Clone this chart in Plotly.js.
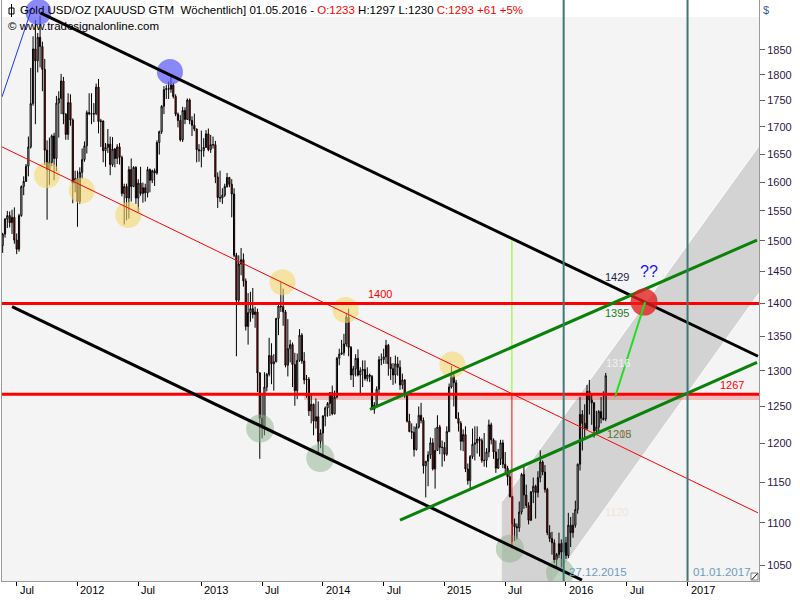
<!DOCTYPE html>
<html><head><meta charset="utf-8">
<script src="https://cdn.plot.ly/plotly-3.0.1.min.js"></script>
<style>html,body{margin:0;padding:0;background:#fff;}#chart{width:800px;height:600px;}</style>
</head><body><div id="chart"></div>
<script>
// ---- weekly bars (week-ending Sunday label), Gold USD/OZ ----
const wk2011 = ['05-22','05-29','06-05','06-12','06-19','06-26','07-03','07-10','07-17','07-24','07-31','08-07','08-14','08-21','08-28','09-04','09-11','09-18','09-25','10-02','10-09','10-16','10-23','10-30','11-06','11-13','11-20','11-27','12-04','12-11','12-18','12-25'];
const o2011 = [1492,1511,1536,1542,1530,1539,1501,1486,1542,1592,1601,1628,1663,1744,1852,1828,1876,1857,1811,1657,1622,1635,1683,1642,1745,1754,1788,1724,1686,1746,1713,1598];
const h2011 = [1513,1538,1550,1549,1552,1556,1512,1545,1594,1610,1632,1682,1814,1878,1912,1885,1921,1867,1832,1675,1680,1686,1689,1759,1768,1802,1796,1726,1764,1762,1716,1620];
const l2011 = [1480,1505,1521,1522,1511,1495,1478,1482,1540,1577,1600,1610,1660,1740,1705,1805,1815,1768,1630,1535,1595,1628,1603,1619,1680,1724,1705,1676,1676,1702,1563,1582];
const c2011 = [1511,1536,1542,1530,1539,1501,1486,1542,1592,1601,1628,1663,1744,1852,1828,1876,1857,1811,1657,1622,1635,1683,1642,1745,1754,1788,1724,1686,1746,1713,1598,1606];

const wk2012 = ['01-01','01-08','01-15','01-22','01-29','02-05','02-12','02-19','02-26','03-04','03-11','03-18','03-25','04-01','04-08','04-15','04-22','04-29','05-06','05-13','05-20','05-27','06-03','06-10','06-17','06-24','07-01','07-08','07-15','07-22','07-29','08-05','08-12','08-19','08-26','09-02','09-09','09-16','09-23','09-30','10-07','10-14','10-21','10-28','11-04','11-11','11-18','11-25','12-02','12-09','12-16','12-23','12-30'];
const o2012 = [1606,1566,1617,1640,1665,1727,1725,1724,1725,1776,1710,1711,1656,1662,1668,1631,1659,1642,1663,1644,1580,1592,1572,1622,1592,1626,1572,1598,1580,1590,1581,1622,1603,1620,1616,1671,1691,1739,1771,1773,1772,1780,1758,1724,1712,1676,1731,1714,1751,1712,1703,1696,1658];
const h2012 = [1620,1626,1660,1673,1731,1764,1764,1745,1783,1792,1715,1712,1670,1696,1682,1681,1661,1668,1670,1647,1597,1597,1628,1642,1628,1628,1605,1627,1599,1597,1627,1624,1622,1624,1675,1693,1741,1778,1780,1787,1796,1785,1762,1727,1722,1738,1737,1754,1754,1720,1725,1697,1668];
const l2012 = [1523,1562,1606,1636,1651,1722,1705,1709,1722,1688,1663,1635,1627,1652,1612,1627,1626,1632,1631,1575,1527,1534,1537,1566,1591,1562,1547,1576,1564,1566,1573,1582,1598,1593,1613,1649,1687,1724,1753,1753,1765,1754,1720,1699,1673,1672,1705,1713,1705,1683,1692,1635,1636];
const c2012 = [1566,1617,1640,1665,1727,1725,1724,1725,1776,1710,1711,1656,1662,1668,1631,1659,1642,1663,1644,1580,1592,1572,1622,1592,1626,1572,1598,1580,1590,1581,1622,1603,1620,1616,1671,1691,1739,1771,1773,1772,1780,1758,1724,1712,1676,1731,1714,1751,1712,1703,1696,1658,1656];

const wk2013 = ['01-06','01-13','01-20','01-27','02-03','02-10','02-17','02-24','03-03','03-10','03-17','03-24','03-31','04-07','04-14','04-21','04-28','05-05','05-12','05-19','05-26','06-02','06-09','06-16','06-23','06-30','07-07','07-14','07-21','07-28','08-04','08-11','08-18','08-25','09-01','09-08','09-15','09-22','09-29','10-06','10-13','10-20','10-27','11-03','11-10','11-17','11-24','12-01','12-08','12-15','12-22','12-29'];
const o2013 = [1656,1656,1662,1687,1658,1667,1667,1609,1573,1572,1577,1592,1608,1596,1579,1476,1405,1462,1469,1435,1365,1386,1392,1383,1387,1297,1234,1223,1277,1295,1322,1310,1313,1377,1396,1395,1387,1308,1332,1338,1309,1272,1315,1352,1314,1287,1288,1244,1253,1230,1236,1203];
const h2013 = [1693,1679,1694,1697,1685,1682,1674,1617,1620,1589,1597,1616,1609,1605,1589,1480,1476,1488,1479,1439,1416,1418,1424,1395,1392,1298,1268,1298,1297,1348,1340,1324,1378,1400,1433,1423,1390,1376,1345,1341,1326,1325,1361,1355,1327,1294,1291,1267,1254,1261,1257,1219];
const l2013 = [1626,1645,1661,1655,1652,1660,1598,1555,1565,1562,1574,1590,1591,1539,1473,1321,1400,1444,1426,1359,1338,1372,1377,1363,1270,1180,1207,1211,1271,1292,1281,1272,1312,1352,1387,1366,1305,1292,1312,1277,1251,1260,1313,1310,1281,1262,1237,1227,1211,1220,1185,1194];
const c2013 = [1656,1662,1687,1658,1667,1667,1609,1573,1572,1577,1592,1608,1596,1579,1476,1405,1462,1469,1435,1365,1386,1392,1383,1387,1297,1234,1223,1277,1295,1322,1310,1313,1377,1396,1395,1387,1308,1332,1338,1309,1272,1315,1352,1314,1287,1288,1244,1253,1230,1236,1203,1214];

const wk2014 = ['01-05','01-12','01-19','01-26','02-02','02-09','02-16','02-23','03-02','03-09','03-16','03-23','03-30','04-06','04-13','04-20','04-27','05-04','05-11','05-18','05-25','06-01','06-08','06-15','06-22','06-29','07-06','07-13','07-20','07-27','08-03','08-10','08-17','08-24','08-31','09-07','09-14','09-21','09-28','10-05','10-12','10-19','10-26','11-02','11-09','11-16','11-23','11-30','12-07','12-14','12-21','12-28'];
const o2014 = [1214,1237,1248,1254,1269,1240,1263,1318,1324,1326,1339,1379,1334,1294,1303,1318,1294,1300,1302,1289,1294,1292,1246,1252,1274,1316,1316,1320,1337,1310,1303,1294,1310,1305,1280,1287,1267,1230,1216,1215,1192,1222,1238,1231,1171,1177,1185,1201,1167,1191,1222,1195];
const h2014 = [1238,1250,1256,1270,1279,1272,1320,1332,1345,1354,1385,1392,1336,1307,1324,1331,1305,1315,1315,1305,1296,1294,1256,1278,1321,1325,1332,1345,1339,1320,1311,1322,1320,1315,1296,1288,1270,1240,1227,1223,1227,1250,1255,1235,1177,1190,1208,1207,1221,1238,1225,1204];
const l2014 = [1182,1223,1236,1237,1238,1239,1261,1308,1323,1322,1335,1321,1287,1277,1292,1292,1268,1277,1286,1285,1284,1245,1240,1251,1266,1308,1310,1310,1293,1287,1280,1282,1293,1273,1274,1262,1228,1215,1206,1183,1191,1220,1227,1161,1131,1145,1180,1165,1142,1191,1186,1170];
const c2014 = [1237,1248,1254,1269,1240,1263,1318,1324,1326,1339,1379,1334,1294,1303,1318,1294,1300,1302,1289,1294,1292,1246,1252,1274,1316,1316,1320,1337,1310,1303,1294,1310,1305,1280,1287,1267,1230,1216,1215,1192,1222,1238,1231,1171,1177,1185,1201,1167,1191,1222,1195,1195];

const wk2015 = ['01-04','01-11','01-18','01-25','02-01','02-08','02-15','02-22','03-01','03-08','03-15','03-22','03-29','04-05','04-12','04-19','04-26','05-03','05-10','05-17','05-24','05-31','06-07','06-14','06-21','06-28','07-05','07-12','07-19','07-26','08-02','08-09','08-16','08-23','08-30','09-06','09-13','09-20','09-27','10-04','10-11','10-18','10-25','11-01','11-08','11-15','11-22','11-29','12-06','12-13','12-20','12-27'];
const o2015 = [1195,1186,1216,1277,1293,1283,1234,1227,1203,1212,1167,1152,1183,1199,1201,1206,1204,1178,1178,1189,1225,1205,1189,1168,1180,1201,1173,1168,1157,1132,1099,1095,1094,1113,1160,1134,1121,1103,1138,1145,1137,1156,1176,1163,1141,1088,1081,1076,1056,1062,1075,1065];
const h2015 = [1202,1223,1282,1307,1297,1287,1242,1230,1219,1223,1174,1185,1220,1223,1223,1209,1207,1214,1194,1232,1228,1207,1204,1193,1205,1205,1189,1171,1163,1133,1105,1099,1126,1162,1170,1147,1125,1139,1156,1147,1164,1191,1178,1172,1143,1097,1089,1080,1064,1088,1080,1081];
const l2015 = [1177,1184,1215,1275,1250,1233,1216,1191,1190,1163,1147,1142,1180,1178,1187,1183,1175,1170,1169,1182,1199,1180,1162,1167,1172,1168,1161,1146,1131,1077,1078,1080,1089,1110,1117,1118,1098,1102,1124,1105,1131,1150,1159,1137,1085,1077,1062,1052,1046,1058,1047,1063];
const c2015 = [1186,1216,1277,1293,1283,1234,1227,1203,1212,1167,1152,1183,1199,1201,1206,1204,1178,1178,1189,1225,1205,1189,1168,1180,1201,1173,1168,1157,1132,1099,1095,1094,1113,1160,1134,1121,1103,1138,1145,1137,1156,1176,1163,1141,1088,1081,1076,1056,1062,1075,1065,1076];

const wk2016 = ['01-03','01-10','01-17','01-24','01-31','02-07','02-14','02-21','02-28','03-06','03-13','03-20','03-27','04-03','04-10','04-17','04-24','05-01'];
const o2016 = [1076,1061,1097,1088,1097,1116,1173,1239,1227,1220,1271,1259,1255,1217,1222,1243,1234,1233];
const h2016 = [1083,1112,1107,1112,1127,1174,1263,1245,1253,1280,1287,1266,1256,1244,1245,1263,1271,1297];
const l2016 = [1057,1058,1071,1082,1094,1111,1165,1191,1208,1218,1239,1225,1208,1212,1213,1227,1231,1230];
const c2016 = [1061,1097,1088,1097,1116,1173,1239,1227,1220,1271,1259,1255,1217,1222,1243,1234,1232,1293];

// ---- axis ticks ----
const xTickDates = ['2011-07-03','2012-01-01','2012-07-01','2013-01-06','2013-07-07','2014-01-05','2014-07-06','2015-01-04','2015-07-05','2016-01-03','2016-07-03','2017-01-01'];
const xTickLabels = ['Jul','2012','Jul','2013','Jul','2014','Jul','2015','Jul','2016','Jul','2017'];
const yTickValues = [1050,1100,1150,1200,1250,1300,1350,1400,1450,1500,1550,1600,1650,1700,1750,1800,1850];

// ---- drawing tools (date, price) ----
const upperChannelX = ['2011-09-12','2017-07-31'], upperChannelY = [1927,1321];
const lowerChannelX = ['2011-06-19','2016-02-20'], lowerChannelY = [1395,1032.7];
const midLineX = ['2011-05-20','2017-07-31'], midLineY = [1663,1112];
const blueLineX = ['2011-05-20','2011-08-19'], blueLineY = [1757,1940];
const greenUpperX = ['2014-05-26','2017-07-28'], greenUpperY = [1246,1501];
const greenLowerX = ['2014-08-24','2017-07-28'], greenLowerY = [1103,1312];
const projectionX = ['2016-05-29','2016-08-27'], projectionY = [1263,1402];
const markerDate = '2015-07-25', markerTop = 1505, markerMid = 1268, markerLow = 1069.5;
const levelHigh = 1400, levelLow = 1267, levelBandLow = 1259;
const cycleDates = ['2015-12-27','2017-01-01'];
const blueCirX = ['2011-09-06','2012-10-04'], blueCirY = [1929,1806];
const yellowCirX = ['2011-10-02','2012-01-14','2012-06-01','2013-09-06','2014-03-14','2015-01-28'], yellowCirY = [1612,1585,1543,1433,1390,1309];
const greenCirX = ['2013-07-01','2013-12-28','2015-07-19','2015-12-16'], greenCirY = [1220,1181,1069,1041];
const redCirX = ['2016-08-24'], redCirY = [1402];
const bandCorners = {x:['2015-06-25','2017-08-03','2017-08-03','2015-11-25','2015-06-25'], y:[1125.7,1665,1416,1031.6,1031.6]};

const dates = [].concat(
  wk2011.map(d => '2011-' + d), wk2012.map(d => '2012-' + d), wk2013.map(d => '2013-' + d),
  wk2014.map(d => '2014-' + d), wk2015.map(d => '2015-' + d), wk2016.map(d => '2016-' + d));
const open = [].concat(o2011, o2012, o2013, o2014, o2015, o2016);
const high = [].concat(h2011, h2012, h2013, h2014, h2015, h2016);
const low = [].concat(l2011, l2012, l2013, l2014, l2015, l2016);
const close = [].concat(c2011, c2012, c2013, c2014, c2015, c2016);

function line(x, y, color, width) {
  return {type:'scatter', mode:'lines', x:x, y:y, line:{color:color, width:width}, hoverinfo:'skip', showlegend:false};
}
function circles(x, y, color, size) {
  return {type:'scatter', mode:'markers', x:x, y:y, marker:{color:color, size:size, line:{width:0}}, hoverinfo:'skip', showlegend:false, cliponaxis:true};
}
const farLeft = '2011-05-01', farRight = '2017-09-01';

const traces = [
  {type:'candlestick', x:dates, open:open, high:high, low:low, close:close,
   increasing:{line:{color:'#000000', width:1}, fillcolor:'#ffffff'},
   decreasing:{line:{color:'#000000', width:1}, fillcolor:'#ff0000'},
   whiskerwidth:0, hoverinfo:'skip', showlegend:false},
  circles(blueCirX, blueCirY, 'rgba(90,90,250,0.7)', 26),
  circles(yellowCirX, yellowCirY, 'rgba(245,215,110,0.6)', 26),
  circles(greenCirX, greenCirY, 'rgba(140,175,140,0.5)', 28),
  line(midLineX, midLineY, '#ff0000', 1),
  line(blueLineX, blueLineY, '#2030ff', 1),
  line([markerDate, markerDate], [markerTop, markerMid], '#80ff00', 1),
  line([markerDate, markerDate], [markerMid, markerLow], '#ff0000', 1),
  line([farLeft, farRight], [levelHigh, levelHigh], '#ff0000', 3),
  line([farLeft, farRight], [levelLow, levelLow], '#ff0000', 3),
  line(upperChannelX, upperChannelY, '#000000', 3),
  line(lowerChannelX, lowerChannelY, '#000000', 3),
  line(greenUpperX, greenUpperY, '#0a820a', 3),
  line(greenLowerX, greenLowerY, '#0a820a', 3),
  circles(redCirX, redCirY, 'rgba(225,30,30,0.78)', 27),
  line(projectionX, projectionY, '#22dd22', 2),
  line([cycleDates[0], cycleDates[0]], [1000, 2000], '#3d7878', 2),
  line([cycleDates[1], cycleDates[1]], [1000, 2000], '#3d7878', 2)
];

const bandPath = 'M ' + bandCorners.x.map((d, i) => d + ',' + bandCorners.y[i]).join(' L ') + ' Z';

const shapes = [
  {type:'rect', xref:'paper', yref:'paper', x0:0, x1:1, y0:1 - 17/581, y1:1, fillcolor:'#ffffff', line:{width:0}, layer:'below'},
  {type:'path', xref:'x', yref:'y', path:bandPath, fillcolor:'#d3d3d3', line:{width:0}, layer:'below'},
  {type:'line', xref:'x', yref:'y', x0:bandCorners.x[0], y0:bandCorners.y[0], x1:bandCorners.x[1], y1:bandCorners.y[1], line:{color:'#ffffff', width:1}, layer:'below'},
  {type:'line', xref:'x', yref:'y', x0:bandCorners.x[3], y0:bandCorners.y[3], x1:bandCorners.x[2], y1:bandCorners.y[2], line:{color:'#fafafa', width:1}, layer:'below'},
  {type:'rect', xref:'x', yref:'y', x0:'2013-11-10', x1:farRight, y0:levelBandLow, y1:levelLow, fillcolor:'rgba(240,80,80,0.35)', line:{width:0}, layer:'below'},
  // candle icon in the header
  {type:'rect', xref:'paper', yref:'paper', x0:7/757, x1:12/757, y0:(581-14)/581, y1:(581-8)/581, fillcolor:'#ffffff', line:{color:'#000', width:1}},
  {type:'line', xref:'paper', yref:'paper', x0:9.5/757, x1:9.5/757, y0:(581-17)/581, y1:(581-4)/581, line:{color:'#000', width:1}},
  // resize grip
  {type:'rect', xref:'paper', yref:'paper', x0:749/757, x1:756/757, y0:1/581, y1:8/581, fillcolor:'#ffffff', line:{color:'#808080', width:1}},
  {type:'line', xref:'paper', yref:'paper', x0:750/757, x1:755.5/757, y0:1.5/581, y1:7.5/581, line:{color:'#000', width:1}}
];

const lg = Math.log10;
function label(x, price, text, color, size) {
  return {xref:'x', yref:'y', x:x, y:lg(price), text:text, showarrow:false, font:{size:size || 11, color:color}, xanchor:'center', yanchor:'middle'};
}
const annotations = [
  {xref:'paper', yref:'paper', x:16/757, y:1 - 9.5/581, xanchor:'left', yanchor:'middle', showarrow:false,
   font:{size:11.5, color:'#000'},
   text:'Gold USD/OZ [XAUUSD GTM&nbsp;&nbsp;Wöchentlich] 01.05.2016 - <span style="color:#ff0000">O:1233</span> H:1297 L:1230 <span style="color:#ff0000">C:1293 +61 +5%</span>'},
  {xref:'paper', yref:'paper', x:4/757, y:1 - 26/581, xanchor:'left', yanchor:'middle', showarrow:false,
   font:{size:11.5, color:'#000'}, text:'© www.tradesignalonline.com'},
  {xref:'paper', yref:'paper', x:(766-2)/757, y:1 - 10/581, xanchor:'center', yanchor:'middle', showarrow:false,
   font:{size:11, color:'#3a5aa0'}, text:'$'},
  label('2014-06-25', 1414, '1400', '#ff0000'),
  label('2017-05-15', 1280, '1267', '#ff0000'),
  label('2016-06-04', 1441, '1429', '#1c1c50'),
  label('2016-06-04', 1386, '1395', '#1f7a1f'),
  label('2016-09-08', 1450, '??', '#1515ff', 16),
  label('2016-06-06', 1311.5, '1316', '#f2f2f2'),
  label('2016-06-09', 1213, '1205', 'rgba(210,60,60,0.85)'),
  label('2016-06-09', 1213, '1218', 'rgba(40,150,60,0.75)'),
  label('2016-06-03', 1113, '1120', '#efe6d4'),
  {xref:'x', yref:'y', x:cycleDates[0], y:lg(1042), xanchor:'left', yanchor:'middle', xshift:3, showarrow:false, font:{size:11.5, color:'#6a9ec0'}, text:'27.12.2015'},
  {xref:'x', yref:'y', x:cycleDates[1], y:lg(1042), xanchor:'left', yanchor:'middle', xshift:3, showarrow:false, font:{size:11.5, color:'#6a9ec0'}, text:'01.01.2017'}
];
xTickDates.forEach((d, i) => {
  annotations.push({xref:'x', yref:'paper', x:d, y:-9/581, xanchor:'left', yanchor:'middle', xshift:1, showarrow:false,
    font:{size:11, color:'#000'}, text:xTickLabels[i]});
});

const layout = {
  width:800, height:600,
  margin:{l:2, r:41, t:0, b:19, pad:0},
  paper_bgcolor:'#ffffff', plot_bgcolor:'#f4f4f4',
  font:{family:'"Liberation Sans", Arial, sans-serif', size:11, color:'#000'},
  showlegend:false, hovermode:false,
  xaxis:{type:'date', range:['2011-05-20','2017-08-03'], rangeslider:{visible:false},
    showgrid:false, zeroline:false, showline:true, mirror:true, linecolor:'#9a9a9a', linewidth:1,
    ticks:'outside', ticklen:4, tickcolor:'#000', tickvals:xTickDates, showticklabels:false},
  yaxis:{type:'log', range:[3.01355, 3.29105], side:'right',
    showgrid:false, zeroline:false, showline:true, mirror:true, linecolor:'#9a9a9a', linewidth:1,
    ticks:'outside', ticklen:5, tickcolor:'#606060', tickvals:yTickValues, ticktext:yTickValues.map(String),
    tickfont:{size:11, color:'#2a1848'}},
  shapes:shapes,
  annotations:annotations
};

Plotly.newPlot('chart', traces, layout, {staticPlot:true, displayModeBar:false});
</script></body></html>
